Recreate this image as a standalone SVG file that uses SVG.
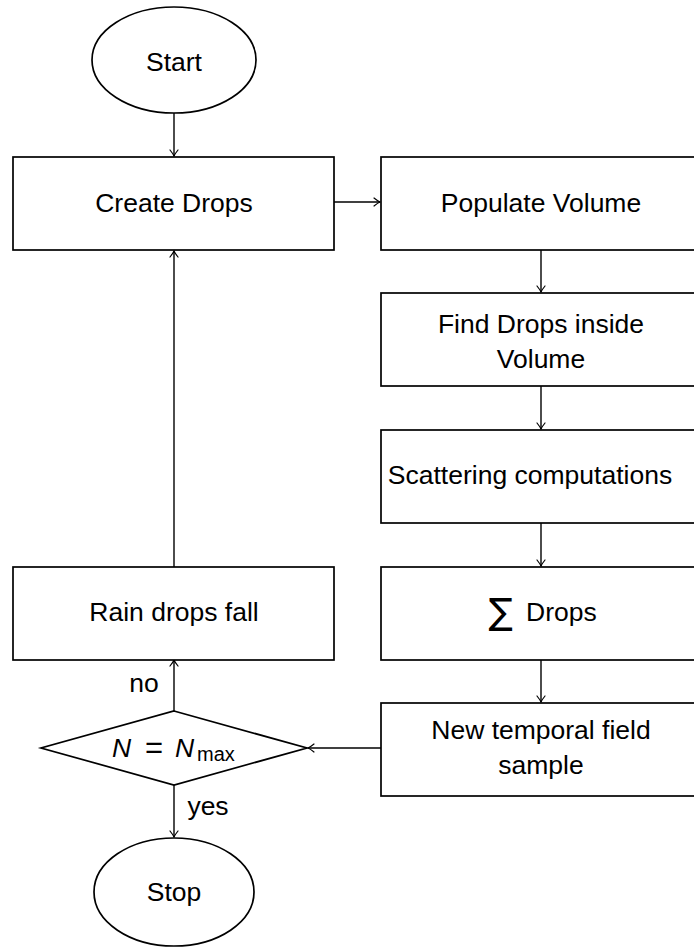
<svg xmlns="http://www.w3.org/2000/svg" width="694" height="951" viewBox="0 0 694 951">
  <style>
    .shape { fill: #ffffff; stroke: #000000; stroke-width: 1.7; }
    .edge { fill: none; stroke: #000000; stroke-width: 1.4; }
    .lbl { font-family: "Liberation Sans", "DejaVu Sans", sans-serif; font-size: 26.5px; fill: #000000; text-anchor: middle; }
    .start { text-anchor: start; }
    .math { font-family: "DejaVu Sans", "Liberation Sans", sans-serif; }
  </style>
  <defs>
    <marker id="arrow" markerUnits="userSpaceOnUse" markerWidth="12" markerHeight="12" viewBox="-7 -6 8 12" refX="0" refY="0" orient="auto">
      <path d="M-6,-4 Q-2,-0.8 0,0 Q-2,0.8 -6,4" fill="none" stroke="#000000" stroke-width="1.2" stroke-linecap="round"/>
    </marker>
  </defs>

  <rect width="694" height="951" fill="#ffffff"/>

  <!-- connectors -->
  <g id="connectors">
    <line class="edge" x1="174" y1="113" x2="174" y2="156" marker-end="url(#arrow)"/>
    <line class="edge" x1="334" y1="202" x2="380" y2="202" marker-end="url(#arrow)"/>
    <line class="edge" x1="541" y1="250" x2="541" y2="292" marker-end="url(#arrow)"/>
    <line class="edge" x1="541" y1="386" x2="541" y2="429" marker-end="url(#arrow)"/>
    <line class="edge" x1="541" y1="523" x2="541" y2="566" marker-end="url(#arrow)"/>
    <line class="edge" x1="541" y1="660" x2="541" y2="702" marker-end="url(#arrow)"/>
    <line class="edge" x1="381" y1="748" x2="308" y2="748" marker-end="url(#arrow)"/>
    <line class="edge" x1="174" y1="711" x2="174" y2="660" marker-end="url(#arrow)"/>
    <line class="edge" x1="174" y1="567" x2="174" y2="251" marker-end="url(#arrow)"/>
    <line class="edge" x1="174" y1="785" x2="174" y2="837" marker-end="url(#arrow)"/>
    <text class="lbl" x="144" y="692">no</text>
    <text class="lbl" x="208" y="815">yes</text>
  </g>

  <!-- nodes -->
  <g id="start">
    <ellipse class="shape" cx="174" cy="60" rx="82" ry="53"/>
    <text class="lbl" x="174" y="71">Start</text>
  </g>

  <g id="create-drops">
    <rect class="shape" x="13" y="157" width="321" height="93"/>
    <text class="lbl" x="174" y="212">Create Drops</text>
  </g>

  <g id="populate-volume">
    <rect class="shape" x="381" y="157" width="321" height="93"/>
    <text class="lbl" x="541" y="212">Populate Volume</text>
  </g>

  <g id="find-drops">
    <rect class="shape" x="381" y="293" width="321" height="93"/>
    <text class="lbl" x="541" y="333">Find Drops inside</text>
    <text class="lbl" x="541" y="368">Volume</text>
  </g>

  <g id="scattering">
    <rect class="shape" x="381" y="430" width="321" height="93"/>
    <text class="lbl" x="530" y="484">Scattering computations</text>
  </g>

  <g id="sum-drops">
    <rect class="shape" x="381" y="567" width="321" height="93"/>
    <text class="lbl math" x="501" y="624" style="font-size:36px">∑</text>
    <text class="lbl start" x="526" y="621">Drops</text>
  </g>

  <g id="new-sample">
    <rect class="shape" x="381" y="703" width="321" height="93"/>
    <text class="lbl" x="541" y="739">New temporal field</text>
    <text class="lbl" x="541" y="774">sample</text>
  </g>

  <g id="rain-fall">
    <rect class="shape" x="13" y="567" width="321" height="93"/>
    <text class="lbl" x="174" y="621">Rain drops fall</text>
  </g>

  <g id="check-n">
    <polygon class="shape" points="174,711 307,748 174,785 41,748"/>
    <text class="lbl start" x="112" y="757" font-style="italic">N</text>
    <text class="lbl" x="154" y="758" style="font-size:31px">=</text>
    <text class="lbl start" x="175" y="757" font-style="italic">N</text>
    <text class="lbl start" x="197" y="761" style="font-size:20px">max</text>
  </g>

  <g id="stop">
    <ellipse class="shape" cx="174" cy="892" rx="80" ry="54"/>
    <text class="lbl" x="174" y="901">Stop</text>
  </g>
</svg>
